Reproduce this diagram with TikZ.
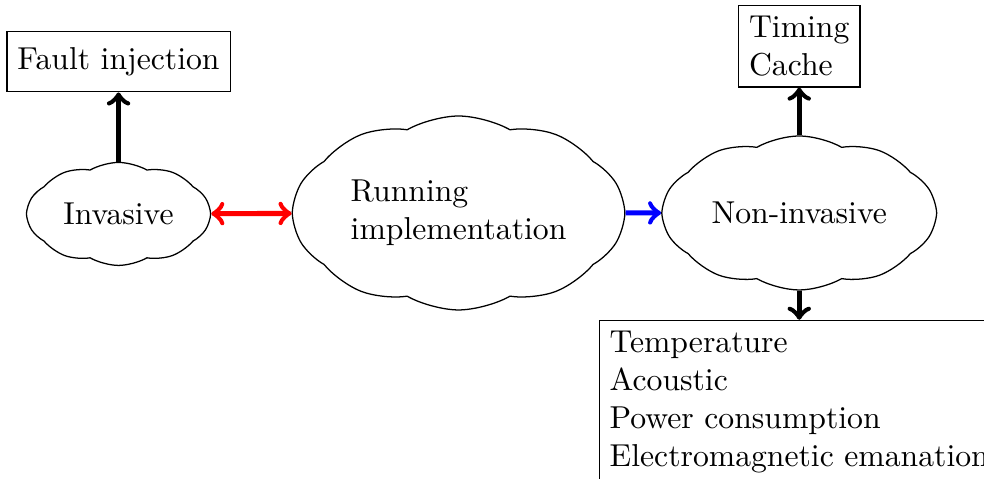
\documentclass[tikz,border=0pt]{standalone}
\usepackage{amsmath,amssymb}
\usepackage{tikz}
\usetikzlibrary{shapes.symbols}

\tikzset{
  attack/.style={cloud, draw, cloud puffs=10, cloud puff arc=60, cloud ignores aspect, inner sep=0pt},
  channel/.style={draw, rectangle, align=left},
  link/.style={ultra thick, ->},
}

\begin{document}
\begin{tikzpicture}[scale=1.000000,x=1pt,y=1pt]
\useasboundingbox (0.000000, 0.000000) rectangle (310.500000, 151.100000);
% Drawing clouds
\node[attack, minimum width=57.700000pt, minimum height=32.500000pt] (invasive) at (37.400000, 83.600000) {Invasive};
\node[attack, minimum width=104.400000pt, minimum height=61.200000pt, align=left] (running) at (144.700000, 83.900000) {Running\\implementation};
\node[attack, minimum width=86.100000pt, minimum height=48.600000pt] (noninvasive) at (252.200000, 83.900000) {Non-invasive};
% Done with clouds; drawing channels
\node[channel, minimum height=18.900000pt] (fault) at (37.400000, 131.600000) {Fault injection};
\node[channel] (timing) at (252.200000, 136.500000) {Timing\\Cache};
\node[channel, anchor=north] (physical) at (252.200000, 50.200000) {Temperature\\Acoustic\\Power consumption\\Electromagnetic emanation};
% Done with channels; drawing links
\draw[link, <->, color=red] (invasive) -- (running);
\draw[link, color=blue] (running) -- (noninvasive);
\draw[link] (invasive.north) -- (fault.south);
\draw[link] (noninvasive.north) -- (timing.south);
\draw[link] (noninvasive.south) -- (physical.north);
% Done with links
\end{tikzpicture}
\end{document}
